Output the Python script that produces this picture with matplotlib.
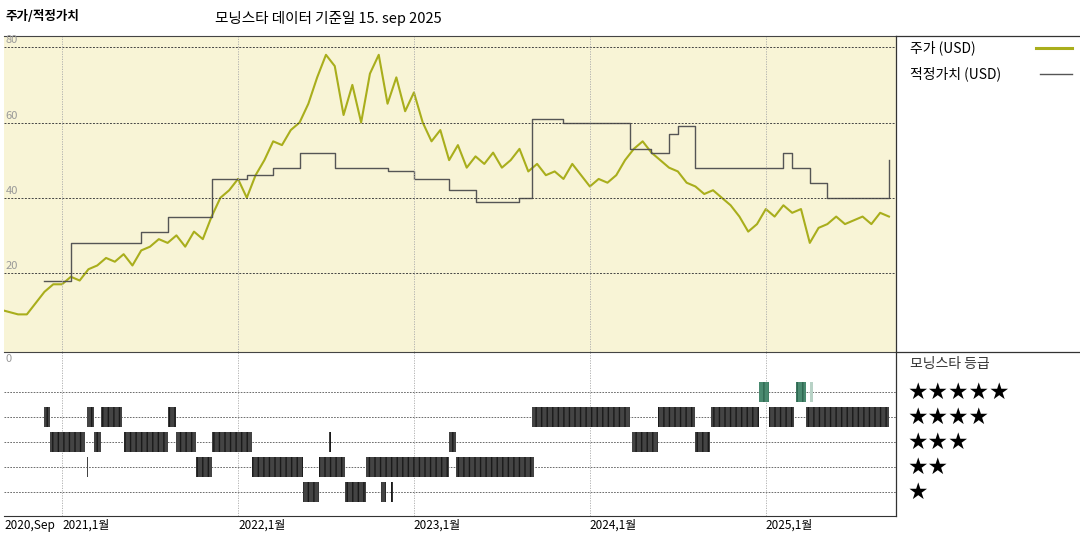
import matplotlib.pyplot as plt
from matplotlib.lines import Line2D

plt.rcParams['font.family'] = ['Noto Sans CJK KR', 'DejaVu Sans']

# price (USD)
price_t = [2020.67, 2020.75, 2020.8, 2020.85, 2020.9, 2020.95, 2021.0, 2021.05, 2021.1, 2021.15,
           2021.2, 2021.25, 2021.3, 2021.35, 2021.4, 2021.45, 2021.5, 2021.55, 2021.6, 2021.65,
           2021.7, 2021.75, 2021.8, 2021.85, 2021.9, 2021.95, 2022.0, 2022.05, 2022.1, 2022.15,
           2022.2, 2022.25, 2022.3, 2022.35, 2022.4, 2022.45, 2022.5, 2022.55, 2022.6, 2022.65,
           2022.7, 2022.75, 2022.8, 2022.85, 2022.9, 2022.95, 2023.0, 2023.05, 2023.1, 2023.15,
           2023.2, 2023.25, 2023.3, 2023.35, 2023.4, 2023.45, 2023.5, 2023.55, 2023.6, 2023.65,
           2023.7, 2023.75, 2023.8, 2023.85, 2023.9, 2023.95, 2024.0, 2024.05, 2024.1, 2024.15,
           2024.2, 2024.25, 2024.3, 2024.35, 2024.4, 2024.45, 2024.5, 2024.55, 2024.6, 2024.65,
           2024.7, 2024.75, 2024.8, 2024.85, 2024.9, 2024.95, 2025.0, 2025.05, 2025.1, 2025.15,
           2025.2, 2025.25, 2025.3, 2025.35, 2025.4, 2025.45, 2025.5, 2025.55, 2025.6, 2025.65, 2025.7]
price_v = [10, 9, 9, 12, 15, 17, 17, 19, 18, 21,
           22, 24, 23, 25, 22, 26, 27, 29, 28, 30,
           27, 31, 29, 35, 40, 42, 45, 40, 46, 50,
           55, 54, 58, 60, 65, 72, 78, 75, 62, 70,
           60, 73, 78, 65, 72, 63, 68, 60, 55, 58,
           50, 54, 48, 51, 49, 52, 48, 50, 53, 47,
           49, 46, 47, 45, 49, 46, 43, 45, 44, 46,
           50, 53, 55, 52, 50, 48, 47, 44, 43, 41,
           42, 40, 38, 35, 31, 33, 37, 35, 38, 36,
           37, 28, 32, 33, 35, 33, 34, 35, 33, 36, 35]

# fair value (USD), step changes
fair_t = [2020.9, 2021.05, 2021.45, 2021.6, 2021.85, 2022.05, 2022.2, 2022.35, 2022.55, 2022.85,
          2023.0, 2023.2, 2023.35, 2023.6, 2023.67, 2023.85, 2024.23, 2024.35, 2024.45, 2024.5,
          2024.6, 2025.1, 2025.15, 2025.25, 2025.35, 2025.68, 2025.7]
fair_v = [18, 28, 31, 35, 45, 46, 48, 52, 48, 47,
          45, 42, 39, 40, 61, 60, 53, 52, 57, 59,
          48, 52, 48, 44, 40, 40, 50]

# morningstar rating spans (start, end) per star level
rating_spans = {
    5: [(2024.96, 2025.02), (2025.17, 2025.23)],
    4: [(2020.90, 2020.93), (2021.14, 2021.18), (2021.22, 2021.34), (2021.60, 2021.65),
        (2023.67, 2024.23), (2024.39, 2024.60), (2024.69, 2024.96), (2025.02, 2025.16),
        (2025.23, 2025.70)],
    3: [(2020.93, 2021.13), (2021.18, 2021.22), (2021.35, 2021.60), (2021.65, 2021.76),
        (2021.85, 2022.08), (2022.52, 2022.53), (2023.20, 2023.24), (2024.24, 2024.39),
        (2024.60, 2024.68)],
    2: [(2021.14, 2021.15), (2021.76, 2021.85), (2022.08, 2022.37), (2022.46, 2022.61),
        (2022.73, 2023.20), (2023.24, 2023.68)],
    1: [(2022.37, 2022.46), (2022.61, 2022.73), (2022.81, 2022.84), (2022.87, 2022.88)],
}
light_span = (2025.25, 2025.27)

xticks = [2020.67, 2021.0, 2022.0, 2023.0, 2024.0, 2025.0]
xticklabels = ['2020,Sep', '2021,1월', '2022,1월', '2023,1월', '2024,1월', '2025,1월']
x0, x1 = 2020.67, 2025.74

W, H = 1080, 540
fig = plt.figure(figsize=(W / 100, H / 100), dpi=100)

ax = fig.add_axes([4 / W, (H - 352) / H, 892 / W, 316 / H])
ax2 = fig.add_axes([4 / W, (H - 516) / H, 892 / W, 164 / H])

ax.set_facecolor('#f8f4d6')
ax.plot(price_t, price_v, color='#a9ae1c', lw=1.5)
ax.step(fair_t, fair_v, where='post', color='#555555', lw=1.0)
ax.set_xlim(x0, x1)
ax.set_ylim(-1, 83)
for g in [20, 40, 60, 80]:
    ax.axhline(g, color='#444444', lw=0.7, ls=(0, (2, 1.5)))
    ax.text(x0 + 0.01, g + 0.5, str(g), color='#999999', fontsize=8, va='bottom')
for t in xticks[1:]:
    ax.axvline(t, color='#aaaaaa', lw=0.6, ls=(0, (1.5, 1.5)))
ax.set_xticks([])
ax.set_yticks([])
for s in ['left', 'right', 'bottom']:
    ax.spines[s].set_visible(False)
ax.spines['top'].set_color('#444444')

for lvl, spans in rating_spans.items():
    col = '#4a8a70' if lvl == 5 else '#444444'
    ax2.broken_barh([(a, b - a) for a, b in spans], (lvl - 0.4, 0.8),
                    facecolor=col, edgecolor='#1a1a1a' if lvl != 5 else '#2e6650',
                    hatch='|||', lw=0)
ax2.broken_barh([(light_span[0], light_span[1] - light_span[0])], (4.6, 0.8),
                facecolor='#b8d2c6', lw=0)
for lvl in range(1, 6):
    ax2.axhline(lvl, color='#555555', lw=0.6, ls=(0, (2, 1.5)), zorder=0)
for t in xticks[1:]:
    ax2.axvline(t, color='#aaaaaa', lw=0.6, ls=(0, (1.5, 1.5)), zorder=0)
ax2.set_xlim(x0, x1)
ax2.set_ylim(0.04, 6.6)
ax2.set_yticks([])
ax2.set_xticks(xticks)
ax2.set_xticklabels(xticklabels, fontsize=8.5, ha='left')
ax2.tick_params(axis='x', length=0, pad=2)
ax2.text(x0 + 0.01, 6.5, '0', color='#999999', fontsize=8, va='top')
for s in ['left', 'right']:
    ax2.spines[s].set_visible(False)
ax2.spines['top'].set_color('#444444')
ax2.spines['bottom'].set_color('#333333')

# right-hand panel lines
def fl(xa, ya, xb, yb):
    fig.add_artist(Line2D([xa / W, xb / W], [1 - ya / H, 1 - yb / H], color='#333333', lw=0.9))

fl(896, 36, 1080, 36)
fl(896, 36, 896, 516)
fl(896, 352, 1080, 352)

fig.text(6 / W, 1 - 16 / H, '주가/적정가치', fontsize=9, fontweight='bold', va='center')
fig.text(215 / W, 1 - 19 / H, '모닝스타 데이터 기준일 15. sep 2025', fontsize=10.5, va='center')
fig.text(910 / W, 1 - 48 / H, '주가 (USD)', fontsize=10, va='center')
fig.add_artist(Line2D([1036 / W, 1072 / W], [1 - 48 / H] * 2, color='#a9ae1c', lw=2.2))
fig.text(910 / W, 1 - 74 / H, '적정가치 (USD)', fontsize=10, va='center')
fig.add_artist(Line2D([1040 / W, 1072 / W], [1 - 74 / H] * 2, color='#555555', lw=1))
fig.text(910 / W, 1 - 364 / H, '모닝스타 등급', fontsize=10, va='center', color='#333333')
for i, n in enumerate([5, 4, 3, 2, 1]):
    fig.text(908 / W, 1 - (392 + i * 25) / H, '★' * n, fontsize=16.5, va='center',
             family=['DejaVu Sans'])

fig.savefig('out.png', dpi=100)
